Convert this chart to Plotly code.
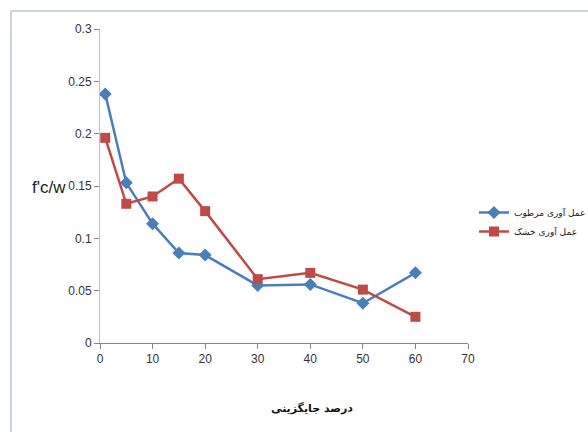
import plotly.graph_objects as go

x_vals = [1, 5, 10, 15, 20, 30, 40, 50, 60]
wet_vals = [0.238, 0.153, 0.114, 0.086, 0.084, 0.055, 0.056, 0.038, 0.067]
dry_vals = [0.196, 0.133, 0.140, 0.157, 0.126, 0.061, 0.067, 0.051, 0.025]
wet_name = "عمل آوری مرطوب"
dry_name = "عمل آوری خشک"
x_title = "درصد جایگزینی"
y_title = "f'c/w"
x_ticks = [0, 10, 20, 30, 40, 50, 60, 70]
y_ticks = [0, 0.05, 0.1, 0.15, 0.2, 0.25, 0.3]
y_tick_text = ["0", "0.05", "0.1", "0.15", "0.2", "0.25", "0.3"]

W, H = 588, 432
L, R, T, B = 100, 120, 29, 89
pw, ph = W - L - R, H - T - B

def px(xp):
    return (xp - L) / pw

def py(yp):
    return (H - B - yp) / ph

fig = go.Figure()
fig.add_trace(go.Scatter(
    x=x_vals, y=wet_vals, name=wet_name, mode="lines+markers",
    line=dict(color="#4a7ebb", width=2.5),
    marker=dict(symbol="diamond", size=10, color="#4a7ebb"),
))
fig.add_trace(go.Scatter(
    x=x_vals, y=dry_vals, name=dry_name, mode="lines+markers",
    line=dict(color="#be4b48", width=2.5),
    marker=dict(symbol="square", size=10, color="#be4b48"),
))

tick_font = dict(family="Liberation Sans Narrow, Arial Narrow, Liberation Sans, sans-serif", size=12, color="#333333")

fig.update_layout(
    width=W, height=H,
    margin=dict(l=L, r=R, t=T, b=B, autoexpand=False),
    paper_bgcolor="white", plot_bgcolor="white",
    showlegend=True,
    legend=dict(
        x=px(474), y=py(198), xanchor="left", yanchor="top",
        font=dict(family="DejaVu Sans, Noto Sans, sans-serif", size=9, color="#222222"),
        tracegroupgap=8, itemwidth=30, bgcolor="rgba(0,0,0,0)",
    ),
    xaxis=dict(
        range=[0, 70], tickvals=x_ticks, showgrid=False, zeroline=False,
        showline=True, linecolor="#868686", linewidth=1,
        ticks="outside", ticklen=5, tickcolor="#868686",
        tickfont=tick_font, fixedrange=True,
    ),
    yaxis=dict(
        range=[0, 0.3], tickvals=y_ticks, ticktext=y_tick_text, showgrid=False, zeroline=False,
        showline=True, linecolor="#bfbfbf", linewidth=1,
        ticks="outside", ticklen=5, tickcolor="#868686",
        tickfont=tick_font, fixedrange=True,
    ),
    annotations=[
        dict(text=y_title, xref="paper", yref="paper", x=px(49), y=py(187),
             xanchor="center", yanchor="middle", showarrow=False,
             font=dict(family="Liberation Sans Narrow, Arial Narrow, sans-serif", size=17, color="#222222")),
        dict(text="<b>" + x_title + "</b>", xref="paper", yref="paper", x=px(312), y=py(408),
             xanchor="center", yanchor="middle", showarrow=False,
             font=dict(family="DejaVu Sans, Noto Sans, sans-serif", size=11, color="#111111")),
    ],
    shapes=[
        dict(type="line", xref="paper", yref="paper", x0=px(11), x1=px(590), y0=py(11), y1=py(11),
             line=dict(color="#b9c6d3", width=1.5)),
        dict(type="line", xref="paper", yref="paper", x0=px(11), x1=px(11), y0=py(11), y1=py(434),
             line=dict(color="#b9c6d3", width=1.5)),
    ],
)

fig.write_html("out.html", config={"displayModeBar": False},
               post_script="document.body.style.margin='0';document.body.style.overflow='hidden';")
